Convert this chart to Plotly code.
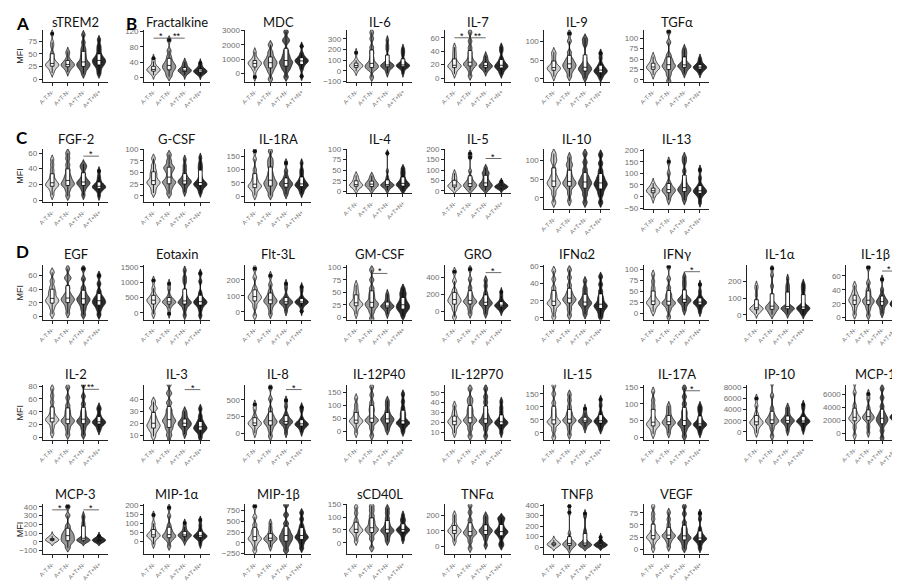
import plotly.graph_objects as go

GROUPS = ["A-T-N-", "A+T-N-", "A+T+N-", "A+T+N+"]

# ---------------- data (approximate sample values) ----------------
sTREM2 = [[12, 18, 22, 25, 27, 28, 29, 31, 34, 38, 45, 52, 65, 73, 90],
          [14, 20, 23, 25, 27, 28, 29, 31, 33, 36, 40, 50, 55],
          [10, 18, 22, 25, 28, 30, 32, 36, 42, 48, 55, 62, 73, 88],
          [10, 18, 25, 28, 31, 34, 36, 38, 41, 44, 50, 58, 66, 78]]
Fractalkine = [[6, 12, 15, 17, 19, 20, 21, 23, 25, 28, 33, 42, 50],
               [2, 10, 18, 22, 26, 30, 33, 38, 45, 55, 70, 98],
               [6, 12, 14, 16, 17, 18, 19, 20, 22, 25, 30, 36, 40],
               [5, 10, 12, 13, 15, 16, 17, 18, 19, 21, 25, 32, 38]]
MDC = [[-250, 200, 400, 500, 600, 680, 720, 780, 850, 950, 1150, 1500],
       [-400, 100, 350, 500, 650, 750, 850, 1000, 1200, 1500, 2000],
       [-250, 200, 400, 550, 700, 800, 900, 1100, 1300, 1600, 2200, 2400, 2900],
       [-200, 300, 550, 700, 800, 850, 900, 950, 1050, 1150, 1400, 1900]]
IL6 = [[-5, 20, 30, 40, 45, 50, 55, 65, 75, 100, 170],
       [-60, 10, 25, 35, 50, 60, 80, 120, 170, 220, 300, 360],
       [-20, 15, 30, 40, 45, 50, 55, 65, 80, 130, 200, 240, 290],
       [-20, 20, 35, 40, 45, 50, 55, 60, 70, 100, 150, 180, 210]]
IL7 = [[6, 11, 14, 16, 17, 18, 19, 21, 23, 27, 33, 39, 46],
       [3, 12, 17, 19, 21, 22, 25, 30, 37, 45, 55, 68],
       [9, 13, 15, 16, 17, 18, 19, 20, 22, 25, 29, 33],
       [6, 11, 14, 16, 17, 18, 20, 22, 25, 30, 40, 46]]
IL9 = [[6, 15, 20, 24, 27, 28, 30, 33, 37, 45, 55, 65, 72],
       [6, 18, 26, 30, 35, 38, 42, 48, 55, 70, 100, 120],
       [2, 12, 18, 22, 26, 28, 31, 36, 42, 55, 90, 100, 108],
       [2, 10, 15, 18, 20, 22, 25, 28, 33, 40, 55, 68]]
TGFa = [[12, 20, 24, 27, 29, 30, 32, 35, 38, 42, 48, 56],
        [-3, 12, 22, 28, 32, 35, 38, 45, 50, 60, 90, 115],
        [15, 22, 27, 30, 32, 33, 35, 37, 40, 48, 55, 62, 68, 75],
        [15, 22, 25, 27, 29, 30, 31, 33, 35, 38, 45, 52]]
FGF2 = [[6, 12, 16, 18, 19, 20, 22, 24, 27, 32, 38, 45, 52],
        [5, 12, 17, 19, 21, 22, 25, 28, 32, 38, 45, 53, 60],
        [6, 13, 17, 19, 21, 22, 23, 25, 28, 33, 40, 43, 46],
        [5, 11, 14, 15, 16, 17, 18, 19, 21, 25, 30, 37]]
GCSF = [[6, 15, 22, 26, 29, 30, 35, 42, 48, 55, 65, 80],
        [4, 15, 22, 27, 30, 32, 40, 50, 57, 60, 65, 75, 88],
        [8, 17, 23, 26, 29, 30, 32, 35, 38, 45, 55, 65, 78],
        [6, 14, 19, 22, 24, 25, 27, 30, 34, 42, 55, 62, 70, 82]]
IL1RA = [[2, 18, 28, 33, 38, 40, 45, 55, 65, 80, 100, 140, 170],
         [2, 20, 30, 38, 45, 50, 55, 65, 75, 90, 110, 125, 140, 170],
         [6, 20, 30, 38, 42, 45, 50, 55, 62, 75, 95, 125],
         [10, 22, 32, 37, 40, 42, 46, 52, 58, 68, 85, 100, 125]]
IL4 = [[2, 8, 11, 13, 14, 15, 17, 20, 23, 27, 32, 38],
       [2, 8, 11, 13, 15, 17, 19, 22, 25, 30, 37],
       [2, 8, 11, 13, 14, 15, 16, 18, 20, 25, 33, 48, 90],
       [1, 7, 11, 13, 15, 17, 19, 22, 26, 32, 40, 47, 55]]
IL5 = [[2, 10, 16, 20, 23, 25, 28, 33, 38, 48, 60, 70, 85],
       [2, 10, 18, 22, 27, 30, 35, 42, 50, 65, 95, 160, 178],
       [2, 10, 18, 22, 27, 30, 35, 42, 50, 62, 75, 85, 92, 110],
       [6, 13, 16, 18, 19, 20, 21, 22, 24, 28, 35, 45]]
IL10 = [[-12, 10, 25, 32, 38, 40, 45, 52, 60, 75, 95, 105, 118],
        [-8, 12, 27, 33, 38, 40, 44, 50, 58, 70, 85, 92, 108],
        [-12, 8, 22, 30, 37, 40, 45, 52, 60, 75, 95, 118],
        [-12, 8, 20, 28, 34, 38, 42, 50, 58, 72, 92, 115]]
IL13 = [[-8, 8, 15, 20, 23, 25, 28, 32, 38, 45, 58],
        [-15, 5, 15, 22, 27, 30, 35, 45, 60, 100, 150],
        [-15, 5, 18, 25, 30, 35, 42, 55, 75, 110, 150, 170],
        [-25, 0, 12, 18, 22, 25, 30, 38, 50, 80, 115]]
EGF = [[3, 12, 18, 21, 23, 25, 28, 33, 37, 43, 52, 65],
       [4, 12, 18, 21, 24, 25, 27, 30, 34, 42, 55, 58, 70],
       [2, 10, 16, 20, 23, 25, 27, 30, 35, 42, 55, 70],
       [2, 10, 15, 18, 20, 22, 24, 27, 30, 37, 48, 60]]
Eotaxin = [[-40, 150, 260, 320, 370, 400, 430, 470, 520, 620, 800, 1050],
           [-30, 150, 270, 310, 340, 350, 370, 410, 450, 550, 780, 950],
           [-80, 120, 250, 300, 330, 350, 390, 460, 550, 700, 1000, 1150, 1380],
           [-90, 100, 230, 280, 330, 350, 380, 430, 500, 650, 1020, 1280]]
Flt3L = [[-25, 30, 60, 75, 85, 90, 100, 110, 125, 150, 215, 270],
         [-15, 20, 45, 55, 65, 70, 78, 90, 105, 130, 170, 225],
         [2, 30, 45, 52, 58, 60, 65, 72, 80, 100, 145, 175],
         [3, 32, 48, 55, 58, 60, 63, 68, 75, 92, 130, 155]]
GMCSF = [[6, 15, 20, 23, 25, 26, 28, 30, 34, 40, 45, 50, 57, 65],
         [-3, 10, 18, 22, 26, 28, 32, 40, 48, 58, 75, 95],
         [6, 13, 18, 20, 21, 22, 23, 25, 28, 33, 40, 47],
         [2, 10, 14, 17, 20, 22, 25, 28, 32, 38, 45, 50, 58]]
GRO = [[-70, 20, 70, 100, 120, 130, 150, 175, 200, 250, 360, 470],
       [-30, 30, 75, 100, 115, 120, 140, 170, 210, 280, 380, 500],
       [-30, 20, 60, 80, 95, 100, 115, 140, 170, 220, 300, 370],
       [0, 30, 50, 58, 65, 70, 75, 85, 100, 130, 180, 230]]
IFNa2 = [[1, 8, 13, 16, 17, 18, 21, 25, 29, 35, 45, 55],
         [3, 10, 16, 19, 21, 22, 24, 27, 31, 38, 47, 56],
         [4, 9, 13, 15, 17, 18, 19, 22, 25, 30, 35, 43],
         [1, 6, 10, 12, 14, 15, 17, 21, 25, 31, 39, 48]]
IFNg = [[4, 12, 18, 21, 24, 25, 28, 32, 38, 48, 58, 72, 88],
        [-8, 8, 17, 21, 24, 25, 30, 38, 45, 58, 78, 105],
        [6, 15, 22, 26, 28, 30, 32, 35, 40, 50, 62, 72, 83],
        [3, 12, 18, 21, 23, 25, 26, 28, 32, 38, 50, 65]]
IL1a = [[6, 20, 28, 32, 36, 38, 42, 46, 55, 80, 120, 155, 175],
        [2, 15, 28, 35, 42, 45, 52, 60, 75, 110, 170, 235, 275],
        [6, 20, 32, 36, 38, 40, 44, 50, 80, 100, 120, 140, 160, 180, 215],
        [2, 15, 27, 33, 38, 40, 44, 50, 60, 90, 120, 145, 165, 185]]
IL1b = [[4, 12, 18, 21, 24, 25, 27, 30, 33, 38, 46],
        [3, 12, 18, 21, 24, 25, 28, 34, 40, 50, 72],
        [6, 12, 17, 20, 22, 23, 25, 28, 32, 40, 55],
        [4, 11, 16, 18, 19, 20, 22, 25, 28, 35, 50]]
IL2 = [[6, 15, 22, 25, 27, 28, 30, 33, 38, 45, 55, 65, 76],
       [4, 13, 20, 23, 26, 27, 30, 36, 42, 50, 62, 78],
       [4, 13, 20, 23, 25, 27, 30, 36, 42, 52, 64, 82],
       [11, 16, 20, 22, 23, 24, 25, 27, 30, 35, 43, 47]]
IL3 = [[9, 13, 15, 17, 18, 19, 21, 23, 26, 32, 33, 38],
       [4, 10, 15, 18, 21, 22, 24, 27, 31, 37, 45, 53],
       [11, 15, 17, 18, 19, 20, 21, 22, 24, 27, 30],
       [8, 12, 14, 15, 16, 17, 18, 20, 22, 26, 32]]
IL8 = [[5, 70, 110, 130, 145, 150, 165, 185, 210, 260, 360, 430],
       [-40, 50, 110, 140, 170, 180, 200, 240, 280, 360, 510, 680],
       [5, 80, 130, 150, 170, 175, 185, 210, 240, 290, 400, 490],
       [25, 80, 105, 120, 135, 140, 148, 160, 180, 230, 340, 390]]
IL12P40 = [[-8, 15, 28, 33, 38, 40, 45, 52, 65, 80, 100, 128],
           [-18, 10, 30, 38, 43, 45, 55, 75, 90, 110, 140, 172],
           [2, 18, 28, 35, 42, 45, 50, 55, 65, 80, 100, 118],
           [-3, 15, 25, 30, 33, 35, 45, 60, 72, 90, 115, 143]]
IL12P70 = [[9, 14, 17, 19, 20, 21, 22, 24, 27, 31, 37],
           [6, 13, 18, 21, 22, 23, 26, 30, 34, 40, 44, 54],
           [6, 13, 18, 20, 21, 22, 25, 28, 33, 40, 46, 54],
           [9, 14, 17, 18, 19, 20, 21, 22, 25, 30, 35, 41]]
IL15 = [[-18, 10, 30, 38, 43, 45, 55, 72, 90, 115, 150, 182],
        [-8, 15, 33, 42, 48, 50, 55, 68, 80, 100, 125, 148],
        [16, 30, 38, 42, 44, 45, 47, 50, 55, 65, 78, 93],
        [12, 25, 35, 40, 43, 45, 48, 55, 62, 78, 105, 128]]
IL17A = [[9, 22, 30, 35, 38, 40, 45, 50, 60, 80, 95, 112, 138],
         [11, 25, 35, 40, 43, 45, 48, 54, 60, 70, 82, 94],
         [2, 20, 32, 38, 42, 45, 55, 68, 80, 100, 122, 148],
         [11, 22, 30, 34, 37, 38, 40, 44, 50, 60, 75, 85, 94]]
IP10 = [[-200, 600, 1100, 1400, 1600, 1700, 1900, 2200, 2600, 3300, 4700, 6000],
        [-800, 500, 1300, 1700, 1900, 2000, 2300, 2700, 3200, 4200, 6500, 8800],
        [100, 900, 1400, 1700, 1900, 2000, 2100, 2300, 2600, 3100, 3800, 4400],
        [300, 1000, 1500, 1700, 1800, 1900, 2000, 2200, 2500, 3000, 4200, 4900]]
MCP1 = [[-300, 900, 1800, 2100, 2300, 2400, 2600, 3000, 3500, 4300, 6300, 7800],
        [100, 1000, 1900, 2200, 2400, 2500, 2700, 2900, 3300, 4000, 5300, 6100],
        [-700, 400, 1300, 1700, 2000, 2200, 2500, 2800, 3300, 4200, 5500, 6900],
        [400, 1300, 2000, 2300, 2400, 2500, 2600, 2800, 3100, 3600, 4400, 5100]]
MCP3 = [[2, 8, 13, 17, 19, 20, 22, 27, 33, 42, 55, 68],
        [-70, -20, 5, 20, 40, 60, 80, 100, 130, 180, 300, 400],
        [0, 10, 15, 18, 20, 22, 25, 40, 80, 110, 150, 190, 220, 270, 300],
        [2, 8, 11, 13, 14, 15, 16, 18, 22, 30, 45, 65]]
MIP1a = [[-15, 10, 22, 28, 32, 35, 40, 48, 58, 75, 100, 145],
         [-25, 5, 18, 25, 30, 35, 42, 55, 68, 90, 140, 185],
         [2, 15, 25, 30, 33, 35, 38, 43, 50, 62, 80, 102],
         [-15, 8, 20, 25, 28, 30, 34, 40, 48, 65, 90, 118]]
MIP1b = [[-180, -50, 30, 70, 100, 120, 170, 240, 300, 420, 600, 850],
         [-100, -10, 40, 60, 85, 100, 115, 140, 180, 250, 350, 460],
         [-180, -60, 20, 60, 110, 150, 190, 250, 320, 450, 650, 880],
         [-130, -20, 60, 100, 130, 150, 190, 250, 310, 400, 550, 700]]
sCD40L = [[6, 25, 37, 43, 48, 50, 55, 63, 72, 88, 115, 138],
          [-20, 15, 35, 45, 50, 55, 62, 75, 88, 105, 125, 143],
          [6, 22, 35, 42, 47, 50, 55, 65, 78, 95, 115, 133],
          [12, 28, 38, 43, 47, 50, 52, 55, 60, 70, 85, 92, 108]]
TNFa = [[30, 60, 78, 88, 95, 100, 105, 115, 125, 145, 175, 205],
        [-15, 30, 60, 75, 85, 90, 100, 115, 135, 170, 220, 265],
        [5, 45, 70, 82, 95, 100, 105, 115, 128, 150, 175, 198],
        [0, 20, 55, 72, 85, 90, 95, 105, 115, 135, 160, 180, 188]]
TNFb = [[2, 10, 17, 21, 24, 25, 27, 30, 35, 45, 58, 68],
        [-25, 0, 12, 20, 27, 30, 40, 55, 70, 130, 330, 390],
        [2, 8, 14, 20, 23, 25, 32, 45, 60, 100, 130, 160, 290, 320],
        [6, 11, 15, 17, 19, 20, 21, 24, 28, 38, 60, 95]]
VEGF = [[1, 12, 18, 22, 24, 25, 28, 32, 38, 48, 62, 73, 88],
        [4, 14, 20, 24, 27, 28, 30, 34, 40, 50, 62, 76],
        [1, 10, 17, 21, 24, 25, 30, 37, 44, 55, 73, 88],
        [1, 10, 16, 19, 21, 22, 24, 28, 33, 42, 62, 74]]

# panel: (title, data, y tick values, y range, significance [(i, j, y, label)])
ROWS = [
    [("sTREM2", sTREM2, [0, 25, 50, 75], [-6, 98], []),
     ("Fractalkine", Fractalkine, [0, 40, 80, 120], [-12, 125], [(0, 1, 103, "*"), (1, 2, 103, "**")]),
     ("MDC", MDC, [0, 1000, 2000, 3000], [-600, 3050], []),
     ("IL-6", IL6, [-100, 0, 100, 200, 300], [-105, 385], []),
     ("IL-7", IL7, [0, 20, 40, 60], [-6, 72], [(0, 1, 60, "*"), (1, 2, 60, "**")]),
     ("IL-9", IL9, [0, 50, 100], [-8, 130], []),
     ("TGFα", TGFa, [0, 25, 50, 75, 100], [-5, 120], [])],
    [("FGF-2", FGF2, [0, 20, 40, 60], [-3, 65], [(2, 3, 56, "*")]),
     ("G-CSF", GCSF, [0, 25, 50, 75, 100], [-14, 100], []),
     ("IL-1RA", IL1RA, [0, 50, 100, 150], [-24, 178], []),
     ("IL-4", IL4, [0, 25, 50, 75, 100], [-5, 100], []),
     ("IL-5", IL5, [0, 50, 100, 150, 200], [-12, 200], [(2, 3, 155, "*")]),
     ("IL-10", IL10, [0, 50, 100], [-30, 130], []),
     ("IL-13", IL13, [-50, 0, 50, 100, 150, 200], [-55, 205], [])],
    [("EGF", EGF, [0, 20, 40, 60], [-5, 75], []),
     ("Eotaxin", Eotaxin, [0, 500, 1000, 1500], [-220, 1540], []),
     ("Flt-3L", Flt3L, [0, 100, 200], [-50, 290], []),
     ("GM-CSF", GMCSF, [0, 25, 50, 75, 100], [-5, 104], [(1, 2, 88, "*")]),
     ("GRO", GRO, [0, 200, 400], [-100, 545], [(2, 3, 460, "*")]),
     ("IFNα2", IFNa2, [0, 20, 40, 60], [-2, 61], []),
     ("IFNγ", IFNg, [0, 25, 50, 75, 100], [-14, 108], [(2, 3, 94, "*")]),
     ("IL-1α", IL1a, [0, 100, 200], [-28, 292], []),
     ("IL-1β", IL1b, [0, 20, 40, 60], [-3, 75], [(2, 3, 67, "*")])],
    [("IL-2", IL2, [0, 20, 40, 60, 80], [-4, 82], [(2, 3, 75, "**")]),
     ("IL-3", IL3, [10, 20, 30, 40], [6, 52], [(2, 3, 48, "*")]),
     ("IL-8", IL8, [0, 250, 500], [-95, 720], [(2, 3, 650, "*")]),
     ("IL-12P40", IL12P40, [0, 50, 100, 150], [-35, 180], []),
     ("IL-12P70", IL12P70, [10, 20, 30, 40, 50], [2, 58], []),
     ("IL-15", IL15, [0, 50, 100, 150], [-28, 185], []),
     ("IL-17A", IL17A, [0, 50, 100, 150], [-9, 158], [(2, 3, 140, "*")]),
     ("IP-10", IP10, [0, 2000, 4000, 6000, 8000], [-1500, 8500], []),
     ("MCP-1", MCP1, [0, 2000, 4000, 6000, 8000], [-1000, 7500], [])],
    [("MCP-3", MCP3, [-100, 0, 100, 200, 300, 400], [-145, 430], [(0, 1, 365, "*"), (2, 3, 365, "*")]),
     ("MIP-1α", MIP1a, [0, 50, 100, 150, 200], [-70, 205], []),
     ("MIP-1β", MIP1b, [-250, 0, 250, 500, 750], [-270, 900], []),
     ("sCD40L", sCD40L, [0, 50, 100, 150], [-45, 150], []),
     ("TNFα", TNFa, [0, 100, 200], [-55, 275], []),
     ("TNFβ", TNFb, [0, 100, 200, 300, 400], [-70, 410], []),
     ("VEGF", VEGF, [0, 25, 50, 75], [-11, 93], [])],
]

# ---------------- layout geometry / styling (pixels) ----------------
W, H = 900, 583
COL_LEFT = [29, 131, 233, 335, 434, 534, 634, 738, 838]
PLOT_W = 66
TITLE_Y = [10, 129, 245, 367, 489]
PLOT_TOP = [18, 139, 257, 378, 499]
PLOT_BOT = [[71] * 7,
            [193, 193, 193, 184, 184, 200, 200],
            [312] * 9,
            [434] * 9,
            [550] * 7]
BW_FRAC = 0.04          # kernel bandwidth as a fraction of each panel's y span
FILLS = ["#d0d0d0", "#989898", "#5c5c5c", "#2a2a2a"]
TICK_FONT = dict(family="Liberation Sans, Arial", size=8, color="#6e6e6e")
XTICK_FONT = dict(family="Liberation Sans, Arial", size=6, color="#6e6e6e")
TITLE_FONT = dict(family="Lato, Open Sans", size=13, color="#111111")
SIG_FONT = dict(family="Liberation Sans, Arial", size=9, color="#000000")

fig = go.Figure()
annotations = []
n = 0
for r, row in enumerate(ROWS):
    for c, (title, data, ticks, yrange, sigs) in enumerate(row):
        n += 1
        sfx = "" if n == 1 else str(n)
        yt, yb = PLOT_TOP[r], PLOT_BOT[r][c]
        x0 = COL_LEFT[c]
        x1 = min(x0 + PLOT_W, W - 4)
        bw = BW_FRAC * (yrange[1] - yrange[0])
        for i, vals in enumerate(data):
            fig.add_trace(go.Violin(
                x=[i] * len(vals), y=vals, xaxis="x" + sfx, yaxis="y" + sfx,
                fillcolor=FILLS[i], line=dict(color="#151515", width=0.8),
                width=0.85, scalemode="width", spanmode="soft", bandwidth=bw,
                box=dict(visible=True, fillcolor="white", width=0.28,
                         line=dict(color="#000000", width=0.8)),
                meanline=dict(visible=False),
                points="outliers", pointpos=0, jitter=0,
                marker=dict(color="#111111", size=4, line=dict(width=0)),
                opacity=1, showlegend=False, hoverinfo="skip"))
        for (i, j, ys, lab) in sigs:
            fig.add_trace(go.Scatter(x=[i, j], y=[ys, ys], mode="lines",
                                     xaxis="x" + sfx, yaxis="y" + sfx,
                                     line=dict(color="#444444", width=0.8),
                                     showlegend=False, hoverinfo="skip"))
            annotations.append(dict(x=(i + j) / 2, y=ys, xref="x" + sfx, yref="y" + sfx,
                                    text=lab, showarrow=False, xanchor="center",
                                    yanchor="bottom", yshift=-4, borderpad=0,
                                    font=SIG_FONT))
        fig.update_layout(**{
            "xaxis" + sfx: dict(domain=[x0 / W, x1 / W], anchor="y" + sfx, range=[-0.6, 3.6],
                                tickvals=[0, 1, 2, 3], ticktext=GROUPS, tickangle=-45,
                                tickfont=XTICK_FONT, showline=True, linecolor="#222",
                                linewidth=1, ticks="outside", ticklen=3, tickcolor="#222",
                                showgrid=False, zeroline=False, fixedrange=True),
            "yaxis" + sfx: dict(domain=[1 - yb / H, 1 - yt / H], anchor="x" + sfx, range=yrange,
                                tickvals=ticks, tickfont=TICK_FONT, showline=True,
                                linecolor="#222", linewidth=1, ticks="outside", ticklen=3,
                                tickcolor="#222", showgrid=False, zeroline=False,
                                fixedrange=True),
        })
        annotations.append(dict(x=(x0 + x1) / 2 / W, y=1 - TITLE_Y[r] / H, xref="paper", yref="paper",
                                text=title, showarrow=False, xanchor="center", yanchor="middle",
                                borderpad=0, font=TITLE_FONT))
        if c == 0:
            annotations.append(dict(x=6 / W, y=1 - (yt + yb) / 2 / H, xref="paper", yref="paper",
                                    text="MFI", textangle=-90, showarrow=False,
                                    xanchor="center", yanchor="middle",
                                    font=dict(family="Liberation Sans, Arial", size=9, color="#222")))

for letter, lx, ly in [("A", 1, 0), ("B", 112, 0), ("C", 1, 116), ("D", 1, 231)]:
    annotations.append(dict(x=lx / W, y=1 - ly / H, xref="paper", yref="paper", text="<b>" + letter + "</b>",
                            showarrow=False, xanchor="left", yanchor="top", borderpad=0,
                            font=dict(family="Lato, Open Sans", size=17, color="#000")))

fig.update_layout(width=W, height=H, margin=dict(l=0, r=0, t=0, b=0),
                  paper_bgcolor="white", plot_bgcolor="white", violinmode="overlay",
                  annotations=annotations, showlegend=False)
fig.write_html("out.html")
